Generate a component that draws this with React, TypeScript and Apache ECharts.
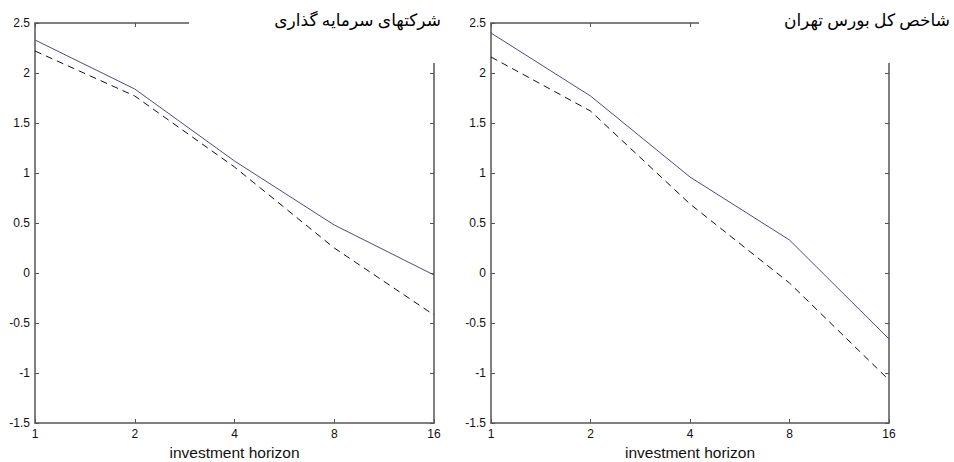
import React, { useEffect, useRef } from "react";
import * as echarts from "echarts";

const horizons = [1, 2, 4, 8, 16];
const leftSolid = [2.33, 1.84, 1.12, 0.48, -0.02];
const leftDashed = [2.22, 1.77, 1.06, 0.25, -0.42];
const rightSolid = [2.4, 1.77, 0.96, 0.33, -0.66];
const rightDashed = [2.16, 1.62, 0.69, -0.1, -1.07];
const leftTitle = "شرکتهای سرمایه گذاری";
const rightTitle = "شاخص کل بورس تهران";
const xName = "investment horizon";

const axisColor = "#555";
const labelFont = "'Liberation Sans', Arial, sans-serif";
const titleFont = "'Liberation Serif', 'Times New Roman', 'DejaVu Sans', serif";

function pairs(vals: number[]) {
  return horizons.map((h, i) => [h, vals[i]]);
}

export default function App() {
  const ref = useRef<HTMLDivElement>(null);
  useEffect(() => {
    if (!ref.current) return;
    const chart = echarts.init(ref.current, undefined, { renderer: "svg" });
    const grids = [
      { left: 35, right: 520, top: 23, bottom: 39, outerBoundsMode: "none", containLabel: false },
      { left: 491, right: 65, top: 23, bottom: 39, outerBoundsMode: "none", containLabel: false },
    ];
    const xAxes: any[] = [];
    const yAxes: any[] = [];
    [0, 1].forEach((g) => {
      xAxes.push({
        type: "log",
        logBase: 2,
        min: 1,
        max: 16,
        gridIndex: g,
        position: "bottom",
        name: xName,
        nameLocation: "middle",
        nameGap: 20,
        nameTextStyle: { fontFamily: labelFont, fontSize: 15.5, color: "#111" },
        axisLine: { onZero: false, lineStyle: { color: axisColor, width: 1.5 } },
        axisTick: { inside: true, length: 4, lineStyle: { color: axisColor } },
        axisLabel: { fontFamily: labelFont, fontSize: 12, color: "#111", margin: 5 },
        splitLine: { show: false },
        minorTick: { show: false },
      });
      xAxes.push({
        type: "log",
        logBase: 2,
        min: 1,
        max: 16,
        gridIndex: g,
        position: "top",
        axisLine: { onZero: false, lineStyle: { color: axisColor, width: 1.5 } },
        axisTick: { inside: true, length: 4, lineStyle: { color: axisColor } },
        axisLabel: { show: false },
        splitLine: { show: false },
      });
      yAxes.push({
        type: "value",
        min: -1.5,
        max: 2.5,
        interval: 0.5,
        gridIndex: g,
        position: "left",
        axisLine: { show: true, onZero: false, lineStyle: { color: axisColor, width: 1.5 } },
        axisTick: { show: true, inside: true, length: 4, lineStyle: { color: axisColor } },
        axisLabel: { fontFamily: labelFont, fontSize: 12, color: "#111", margin: 5 },
        splitLine: { show: false },
      });
      yAxes.push({
        type: "value",
        min: -1.5,
        max: 2.5,
        interval: 0.5,
        gridIndex: g,
        position: "right",
        axisLine: { show: true, onZero: false, lineStyle: { color: axisColor, width: 1.5 } },
        axisTick: { show: true, inside: true, length: 4, lineStyle: { color: axisColor } },
        axisLabel: { show: false },
        splitLine: { show: false },
      });
    });
    const solidStyle = { color: "#4a4a8c", width: 1, type: "solid" as const };
    const dashedStyle = { color: "#111", width: 1, type: [7, 5] as any };
    const mk = (data: number[], xi: number, yi: number, ls: any) => ({
      type: "line",
      xAxisIndex: xi,
      yAxisIndex: yi,
      data: pairs(data),
      showSymbol: false,
      symbol: "none",
      lineStyle: ls,
      itemStyle: { color: ls.color },
    });
    chart.setOption({
      animation: false,
      backgroundColor: "#fff",
      grid: grids,
      xAxis: xAxes,
      yAxis: yAxes,
      series: [
        mk(leftSolid, 0, 0, solidStyle),
        mk(leftDashed, 0, 0, dashedStyle),
        mk(rightSolid, 2, 2, solidStyle),
        mk(rightDashed, 2, 2, dashedStyle),
      ],
      graphic: [
        { type: "rect", z: 100, shape: { x: 189, y: 0, width: 262, height: 63 }, style: { fill: "#fff" } },
        { type: "rect", z: 100, shape: { x: 699, y: 0, width: 255, height: 63 }, style: { fill: "#fff" } },
        {
          type: "text",
          z: 101,
          x: 441,
          y: 12,
          style: { text: leftTitle, align: "right", verticalAlign: "top", font: `17px ${titleFont}`, fill: "#000" },
        },
        {
          type: "text",
          z: 101,
          x: 950,
          y: 12,
          style: { text: rightTitle, align: "right", verticalAlign: "top", font: `17px ${titleFont}`, fill: "#000" },
        },
      ],
    });
    return () => chart.dispose();
  }, []);
  return <div ref={ref} style={{ width: 954, height: 462, position: "absolute", left: 0, top: 0 }} />;
}
